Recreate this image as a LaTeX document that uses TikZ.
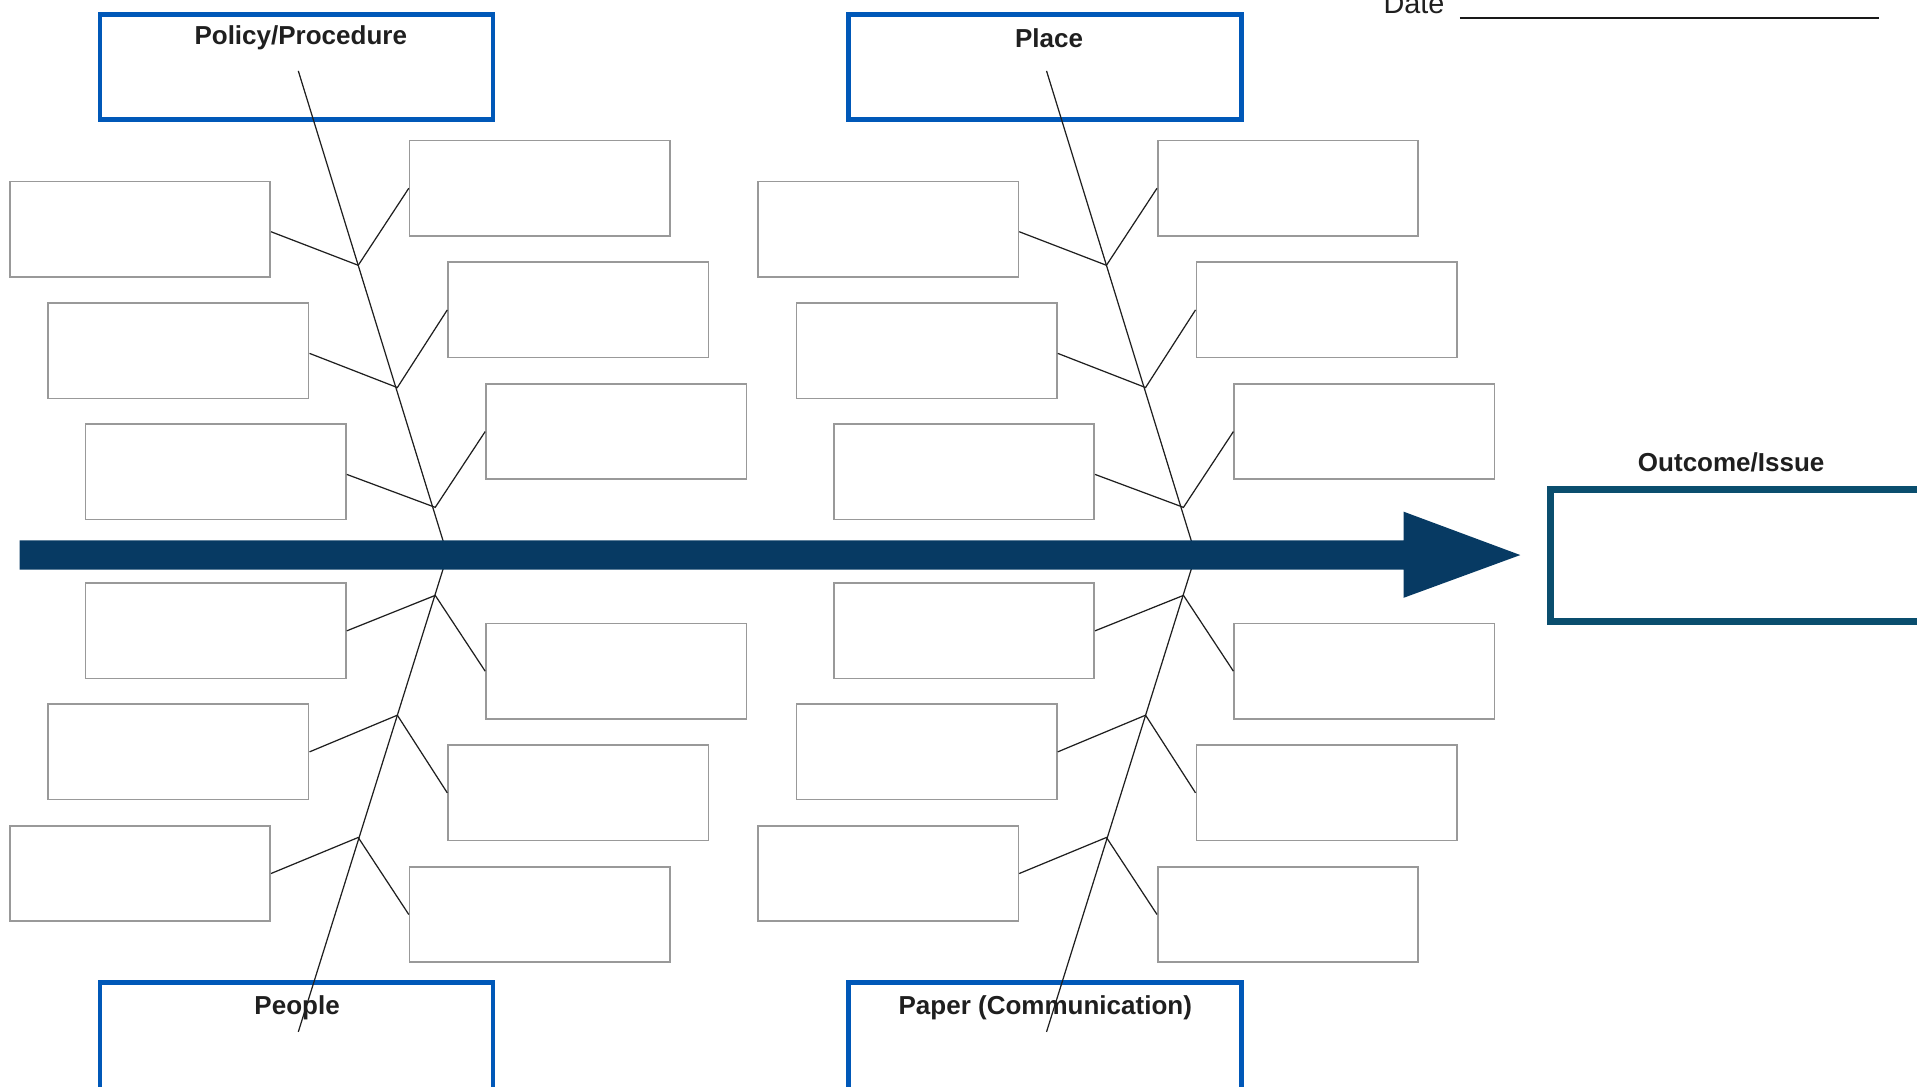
\documentclass[tikz,border=0pt]{standalone}
\usepackage{fontspec}
\setmainfont{Liberation Sans}
\definecolor{catblue}{RGB}{0,88,184}
\definecolor{outteal}{RGB}{10,78,110}
\definecolor{spinenavy}{RGB}{7,58,99}

\begin{document}
\begin{tikzpicture}[x=0.12226mm, y=-0.12226mm,
	causebox/.style={draw=black!40, line width=0.45pt, minimum width=26.04mm, minimum height=9.54mm, inner sep=0pt},
	catbox/.style={draw=catblue, line width=1.4pt, minimum width=39.3mm, minimum height=10.5mm, inner sep=0pt},
	cattext/.style={font=\bfseries\fontsize{7.4}{9}\selectfont, text=black!88, inner sep=0pt},
	bone/.style={black!88, line width=0.35pt}]
		\useasboundingbox (0,0) rectangle (1568,889);
		\clip (0,0) rectangle (1568,889);

		\foreach \s/\sd in {0/l, 612/r} {
			\foreach \i/\ax/\ay/\bx/\by/\jx/\jy in {1/114.5/187.5/441.5/154/293/217, 2/146/287/473/253.5/325/317, 3/176.5/386/504/353/356/415} {
				% above the arrow
				\node[causebox] (\sd-ta-\i) at (\s+\ax, \ay) {};
				\node[causebox] (\sd-tb-\i) at (\s+\bx, \by) {};
				\coordinate (\sd-tj-\i) at (\s+\jx, \jy);
				\draw[bone] ([yshift=-0.25mm]\sd-ta-\i.east) -- (\sd-tj-\i) -- (\sd-tb-\i.west);
				% below the arrow
				\node[causebox] (\sd-ba-\i) at (\s+\ax, 902-\ay) {};
				\node[causebox] (\sd-bb-\i) at (\s+\bx, 902-\by) {};
				\coordinate (\sd-bj-\i) at (\s+\jx, 902-\jy);
				\draw[bone] (\sd-ba-\i.east) -- (\sd-bj-\i) -- (\sd-bb-\i.west);
			}
		}

		\node[catbox] (pol) at (242.5, 54.5) {};
		\node[cattext] (pol-t) at (246, 31) {Policy/Procedure};
		\node[catbox] (plc) at (854.5, 54.5) {};
		\node[cattext] (plc-t) at (858, 31) {Place};
		\node[catbox, minimum height=12mm] (ppl) at (242.5, 853) {};
		\node[cattext] (ppl-t) at (243, 824.5) {People};
		\node[catbox, minimum height=12mm] (ppr) at (854.5, 853) {};
		\node[cattext] (ppr-t) at (855, 824.5) {Paper (Communication)};

		\coordinate (pol-s) at (244, 58);
		\coordinate (ppl-s) at (244, 844);
		\coordinate (l-axis) at (366, 454);
		\coordinate (plc-s) at (856, 58);
		\coordinate (ppr-s) at (856, 844);
		\coordinate (r-axis) at (978, 454);
		\draw[bone] (pol-s) -- (l-axis) -- (ppl-s);
		\draw[bone] (plc-s) -- (r-axis) -- (ppr-s);

		\fill[spinenavy] (16, 442) -- (1148, 442) -- (1148, 418.5) -- (1243.5, 454) -- (1148, 489) -- (1148, 466) -- (16, 466) -- cycle;

		\node[draw=outteal, line width=2pt, minimum width=40mm, minimum height=13.2mm, inner sep=0pt] (out) at (1432, 454) {};
		\node[cattext] (out-t) at (1416, 378.5) {Outcome/Issue};

		\node[anchor=base east, font=\fontsize{8.2}{9}\selectfont, text=black!88, inner sep=0pt] (date) at (1182, 11) {Date};
		\draw[line width=0.7pt, black!90] (1194, 14.7) -- (1537, 14.7);
	\end{tikzpicture}
\end{document}
